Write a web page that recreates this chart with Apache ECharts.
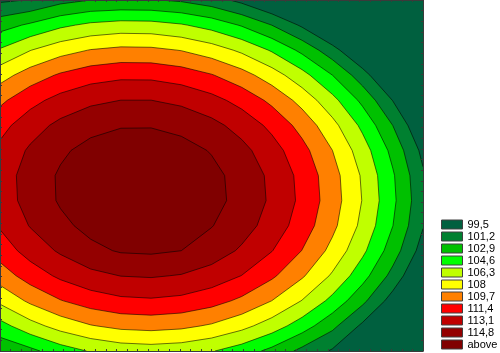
<!DOCTYPE html>
<html><head><meta charset="utf-8">
<script src="https://cdn.jsdelivr.net/npm/echarts@6/dist/echarts.min.js"></script>
<style>html,body{margin:0;padding:0;background:#fff}#c{width:500px;height:353px}</style>
</head><body><div id="c"></div>
<script>
// grid node positions (plot units)
const xValues = [0,30,60,90,120,150,180,210,240,270,300,330,360,390,420];
const yValues = [0,25,50,75,100,125,150,175,200,225,250,275,300,325,350];
// contour levels and legend labels
const levels = [99.5,101.2,102.9,104.6,106.3,108,109.7,111.4,113.1,114.8];
const levelLabels = ['99,5','101,2','102,9','104,6','106,3','108','109,7','111,4','113,1','114,8','above'];
const bandColors = ['#00603f','#008030','#00c000','#00ff00','#c0ff00','#ffff00','#ff8000','#ff0000','#c00000','#940000','#800000'];
// z values, one row per yValues entry, one column per xValues entry
const zGrid = [
 [99.2,99.57,100.63,101.2,101.35,101.3,100.95,100.23,99.02,97.42,95.45,93.10,90.38,87.27,83.78],
 [102.2,103.17,104.25,104.95,105.27,105.21,104.76,103.95,102.75,101.18,99.22,96.90,94.19,91.10,87.63],
 [104.77,106.25,107.35,108.07,108.41,108.36,107.94,107.14,105.97,104.41,102.47,100.16,97.48,94.41,90.96],
 [107.31,108.81,109.93,110.67,111.02,111.00,110.59,109.81,108.66,107.12,105.20,102.91,100.24,97.19,93.76],
 [109.33,110.85,111.98,112.74,113.11,113.11,112.72,111.96,110.82,109.30,107.41,105.13,102.48,99.45,96.04],
 [110.83,112.36,113.52,114.29,114.68,114.69,114.33,113.59,112.47,110.97,109.09,106.84,104.20,101.19,97.80],
 [111.80,113.35,114.52,115.32,115.73,115.76,115.41,114.69,113.59,112.11,110.25,108.01,105.40,102.41,99.03],
 [112.25,113.82,115.01,115.82,116.25,116.30,115.97,115.27,114.19,112.73,110.89,108.67,106.08,103.10,99.75],
 [112.17,113.77,114.98,115.81,116.26,116.32,116.01,115.33,114.27,112.82,111.00,108.80,106.23,103.27,99.94],
 [111.58,113.19,114.42,115.27,115.74,115.82,115.53,114.87,113.82,112.40,110.59,108.42,105.86,102.92,99.60],
 [110.46,112.09,113.34,114.40,114.95,115.05,114.80,114.00,112.86,111.45,109.66,107.50,104.97,102.05,98.75],
 [108.82,110.47,111.73,112.62,113.13,113.25,113.00,112.37,111.37,109.98,108.21,106.07,103.55,100.65,97.37],
 [106.66,108.32,109.61,110.51,111.04,111.18,110.95,110.34,109.35,107.98,106.23,104.11,101.61,98.73,95.47],
 [103.97,105.66,106.96,107.89,108.43,108.59,108.37,107.79,106.82,105.47,103.74,101.64,99.15,96.29,93.05],
 [101.6,102.47,103.79,104.73,105.30,105.48,105.28,104.71,103.76,102.43,100.72,99.3,96.17,93.33,90.10]
];

function fmt(api, q){ const c = api.coord(q); return c[0].toFixed(2)+' '+c[1].toFixed(2); }
function cellData(i,j){
  const cs = [[i,j],[i+1,j],[i+1,j+1],[i,j+1]];
  return { v: cs.map(([a,b]) => zGrid[b][a]), p: cs.map(([a,b]) => [xValues[a], yValues[b]]) };
}
function lerp(a,b,t){ return [a[0]+(b[0]-a[0])*t, a[1]+(b[1]-a[1])*t]; }
function rectPath(api){
  const x0 = xValues[0], x1 = xValues[xValues.length-1], y0 = yValues[0], y1 = yValues[yValues.length-1];
  return 'M'+fmt(api,[x0,y0])+'L'+fmt(api,[x1,y0])+'L'+fmt(api,[x1,y1])+'L'+fmt(api,[x0,y1])+'Z';
}
function regionPath(api, L){
  let d = '';
  for (let j=0;j<yValues.length-1;j++) for (let i=0;i<xValues.length-1;i++){
    const {v,p} = cellData(i,j);
    const out = [];
    for (let k=0;k<4;k++){
      const k2=(k+1)%4, inA=v[k]>=L, inB=v[k2]>=L;
      if (inA) out.push(p[k]);
      if (inA!==inB) out.push(lerp(p[k],p[k2],(L-v[k])/(v[k2]-v[k])));
    }
    if (out.length>=3) d += out.map((q,n)=>(n?'L':'M')+fmt(api,q)).join('')+'Z';
  }
  return d;
}
function linePath(api){
  let d = '';
  levels.forEach(L=>{
    for (let j=0;j<yValues.length-1;j++) for (let i=0;i<xValues.length-1;i++){
      const {v,p} = cellData(i,j);
      const cr = [];
      for (let k=0;k<4;k++){
        const k2=(k+1)%4;
        if ((v[k]>=L)!==(v[k2]>=L)) cr.push(lerp(p[k],p[k2],(L-v[k])/(v[k2]-v[k])));
      }
      if (cr.length===2) d += 'M'+fmt(api,cr[0])+'L'+fmt(api,cr[1]);
      else if (cr.length===4){
        if (v[0]>=L) d += 'M'+fmt(api,cr[0])+'L'+fmt(api,cr[1])+'M'+fmt(api,cr[2])+'L'+fmt(api,cr[3]);
        else d += 'M'+fmt(api,cr[1])+'L'+fmt(api,cr[2])+'M'+fmt(api,cr[3])+'L'+fmt(api,cr[0]);
      }
    }
  });
  return d;
}

const series = levelLabels.map((name,k)=>({
  type:'custom', name, coordinateSystem:'cartesian2d', data:[[0,0]], silent:true, animation:false,
  itemStyle:{color:bandColors[k]},
  renderItem:(params,api)=>({type:'path', shape:{pathData: k===0 ? rectPath(api) : regionPath(api, levels[k-1])}, style:{fill:bandColors[k]}})
}));
series.push({
  type:'custom', name:'contours', coordinateSystem:'cartesian2d', data:[[0,0]], silent:true, animation:false,
  renderItem:(params,api)=>({type:'path', shape:{pathData: linePath(api)}, style:{fill:'none', stroke:'rgba(0,0,0,0.75)', lineWidth:0.75}})
});

const axisCommon = {
  type:'value', z:10,
  axisLine:{show:true, onZero:false, lineStyle:{color:'#3a3a3a', width:1}},
  axisTick:{show:true, inside:true, length:2, lineStyle:{color:'#3a3a3a', width:1}},
  axisLabel:{show:false}, splitLine:{show:false}
};
const chart = echarts.init(document.getElementById('c'), null, {renderer:'canvas'});
chart.setOption({
  animation:false,
  grid:{left:0, top:0, width:423, height:351},
  xAxis:[Object.assign({min:0, max:420, interval:10.5, position:'bottom'}, axisCommon),
         Object.assign({min:0, max:420, interval:10.5, position:'top'}, axisCommon)],
  yAxis:[Object.assign({min:0, max:350, interval:350/33, inverse:true, position:'left'}, axisCommon),
         Object.assign({min:0, max:350, interval:350/33, inverse:true, position:'right'}, axisCommon)],
  legend:{
    data:levelLabels, orient:'vertical', left:441, top:219, height:134, padding:0, icon:'rect',
    itemWidth:21, itemHeight:9, itemGap:1, selectedMode:false,
    itemStyle:{borderColor:'#404040', borderWidth:1},
    textStyle:{fontSize:11, fontFamily:'Arial, "Liberation Sans", sans-serif', color:'#000'}
  },
  series
});
</script></body></html>
